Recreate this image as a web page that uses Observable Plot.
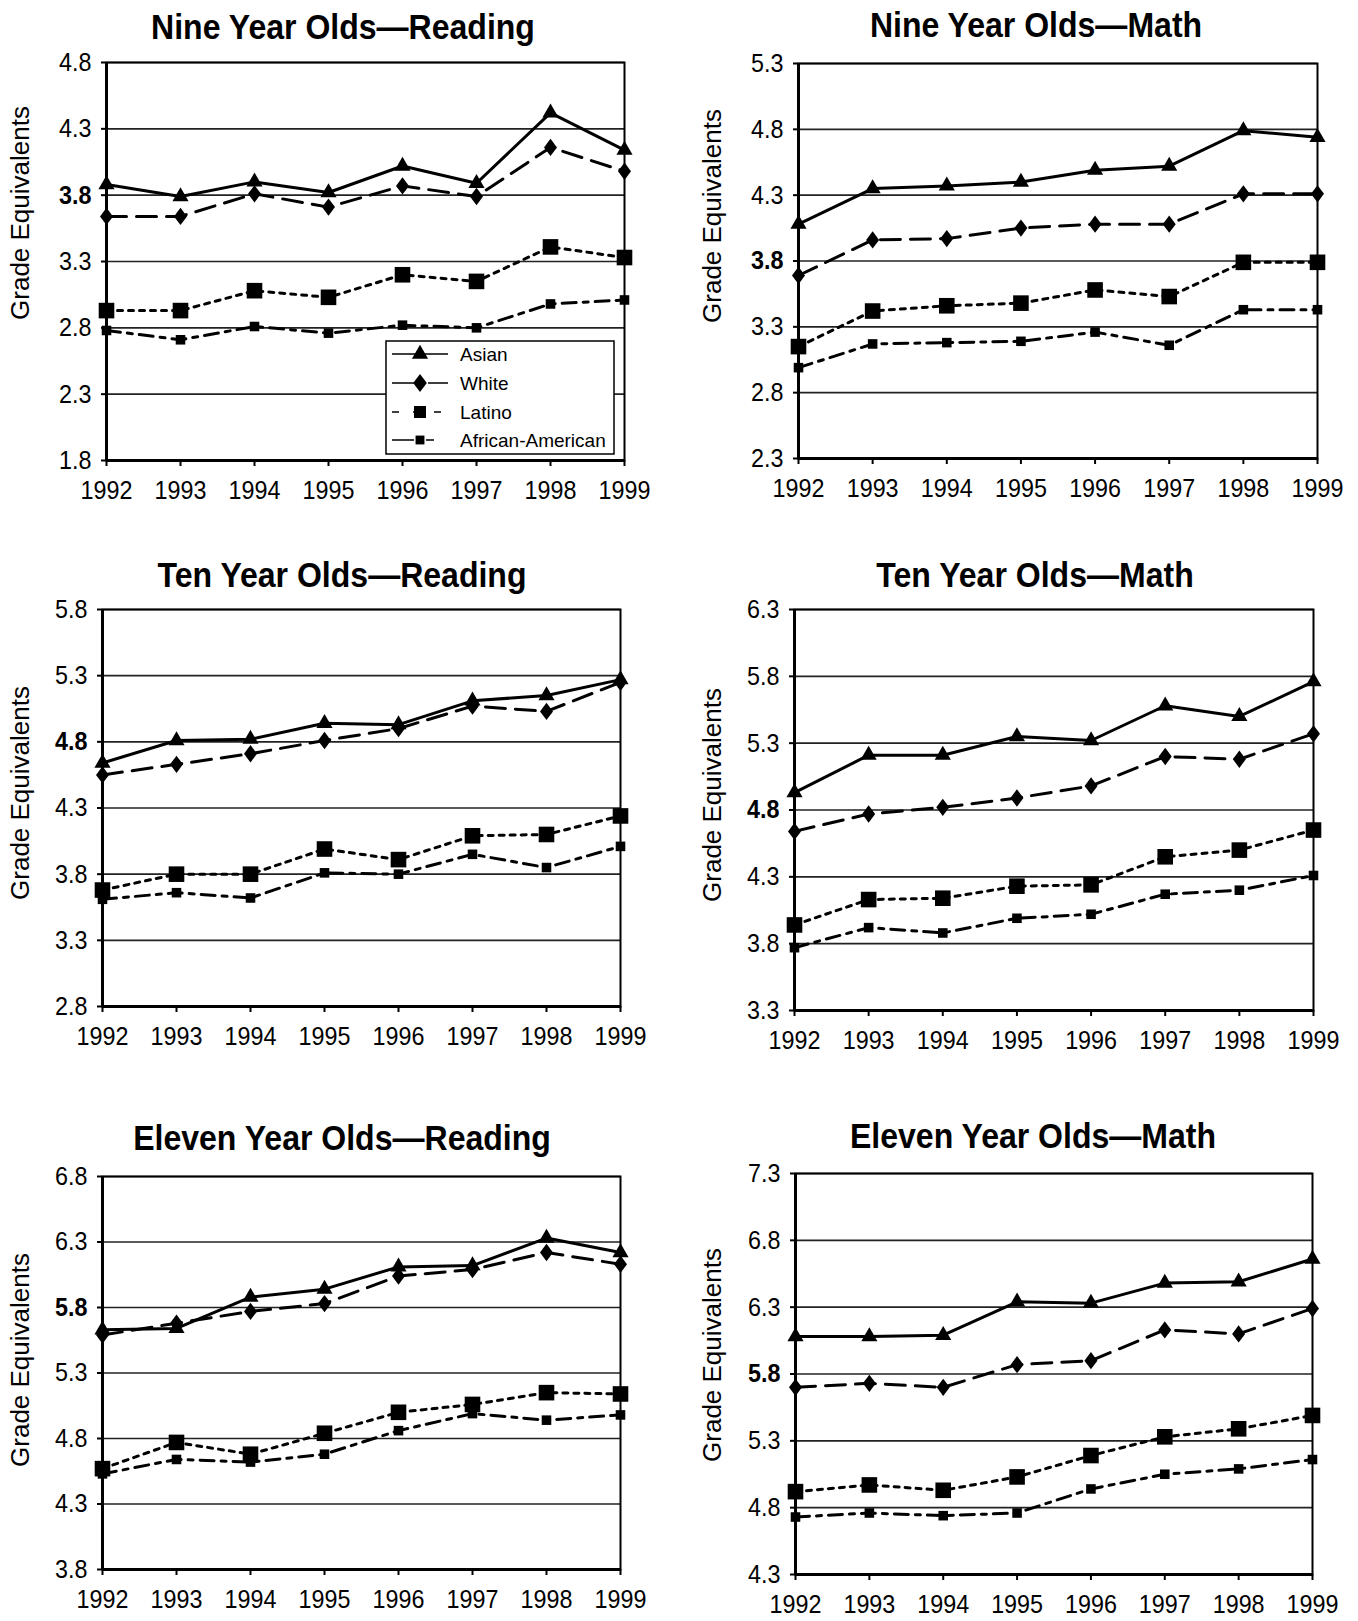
<!DOCTYPE html>
<html><head><meta charset="utf-8">
<script src="https://cdn.jsdelivr.net/npm/d3@7"></script>
<script src="https://cdn.jsdelivr.net/npm/@observablehq/plot@0.6"></script>
<style>
html,body{margin:0;padding:0;background:#fff;}
#page{position:relative;width:1358px;height:1621px;overflow:hidden;background:#fff;font-family:"Liberation Sans",Arial,Helvetica,sans-serif;}
#page svg{position:absolute;overflow:visible;}
</style></head><body><div id="page"></div>
<script>
// ---------- data ----------
const years = [1992, 1993, 1994, 1995, 1996, 1997, 1998, 1999];
const groups = ["Asian", "White", "Latino", "African-American"];
const panelTitles = ["Nine Year Olds\u2014Reading", "Nine Year Olds\u2014Math", "Ten Year Olds\u2014Reading", "Ten Year Olds\u2014Math", "Eleven Year Olds\u2014Reading", "Eleven Year Olds\u2014Math"];
const yAxisLabel = "Grade Equivalents";
const yMins = [1.8, 2.3, 2.8, 3.3, 3.8, 4.3];
const gradeLevelTick = [3.8, 3.8, 4.8, 4.8, 5.8, 5.8];

const nineReadingAsian = [3.88, 3.79, 3.90, 3.82, 4.02, 3.89, 4.42, 4.14];
const nineReadingWhite = [3.64, 3.64, 3.81, 3.71, 3.87, 3.79, 4.16, 3.98];
const nineReadingLatino = [2.93, 2.93, 3.08, 3.03, 3.20, 3.15, 3.41, 3.33];
const nineReadingAfricanAmerican = [2.78, 2.71, 2.81, 2.76, 2.82, 2.80, 2.98, 3.01];

const nineMathAsian = [4.08, 4.35, 4.37, 4.40, 4.49, 4.52, 4.79, 4.74];
const nineMathWhite = [3.69, 3.96, 3.97, 4.05, 4.08, 4.08, 4.31, 4.31];
const nineMathLatino = [3.15, 3.42, 3.46, 3.48, 3.58, 3.53, 3.79, 3.79];
const nineMathAfricanAmerican = [2.99, 3.17, 3.18, 3.19, 3.26, 3.16, 3.43, 3.43];

const tenReadingAsian = [4.64, 4.81, 4.82, 4.94, 4.93, 5.11, 5.15, 5.27];
const tenReadingWhite = [4.55, 4.63, 4.71, 4.81, 4.90, 5.07, 5.03, 5.25];
const tenReadingLatino = [3.68, 3.80, 3.80, 3.99, 3.91, 4.09, 4.10, 4.24];
const tenReadingAfricanAmerican = [3.61, 3.66, 3.62, 3.81, 3.80, 3.95, 3.85, 4.01];

const tenMathAsian = [4.93, 5.21, 5.21, 5.35, 5.32, 5.58, 5.50, 5.76];
const tenMathWhite = [4.64, 4.77, 4.82, 4.89, 4.98, 5.20, 5.18, 5.37];
const tenMathLatino = [3.94, 4.13, 4.14, 4.23, 4.24, 4.45, 4.50, 4.65];
const tenMathAfricanAmerican = [3.77, 3.92, 3.88, 3.99, 4.02, 4.17, 4.20, 4.31];

const elevenReadingAsian = [5.63, 5.64, 5.88, 5.94, 6.11, 6.12, 6.33, 6.22];
const elevenReadingWhite = [5.59, 5.68, 5.77, 5.83, 6.04, 6.09, 6.22, 6.13];
const elevenReadingLatino = [4.57, 4.77, 4.68, 4.84, 5.00, 5.06, 5.15, 5.14];
const elevenReadingAfricanAmerican = [4.53, 4.64, 4.62, 4.68, 4.86, 4.99, 4.94, 4.98];

const elevenMathAsian = [6.08, 6.08, 6.09, 6.34, 6.33, 6.48, 6.49, 6.66];
const elevenMathWhite = [5.70, 5.73, 5.70, 5.87, 5.90, 6.13, 6.10, 6.29];
const elevenMathLatino = [4.92, 4.97, 4.93, 5.03, 5.19, 5.33, 5.39, 5.49];
const elevenMathAfricanAmerican = [4.73, 4.76, 4.74, 4.76, 4.94, 5.05, 5.09, 5.16];

const panelSeries = [
  [nineReadingAsian, nineReadingWhite, nineReadingLatino, nineReadingAfricanAmerican],
  [nineMathAsian, nineMathWhite, nineMathLatino, nineMathAfricanAmerican],
  [tenReadingAsian, tenReadingWhite, tenReadingLatino, tenReadingAfricanAmerican],
  [tenMathAsian, tenMathWhite, tenMathLatino, tenMathAfricanAmerican],
  [elevenReadingAsian, elevenReadingWhite, elevenReadingLatino, elevenReadingAfricanAmerican],
  [elevenMathAsian, elevenMathWhite, elevenMathLatino, elevenMathAfricanAmerican]
];

// ---------- layout & style ----------
const plotBoxes = [
  {left: 106, top: 62, width: 518, height: 398},
  {left: 798, top: 63, width: 519, height: 395},
  {left: 102, top: 609, width: 518, height: 397},
  {left: 794, top: 609, width: 519, height: 401},
  {left: 102, top: 1176, width: 518, height: 393},
  {left: 795, top: 1173, width: 517, height: 401}
];
const titlePos = [{x: 343, y: 39}, {x: 1036, y: 37}, {x: 342, y: 587}, {x: 1035, y: 587}, {x: 342, y: 1150}, {x: 1033, y: 1148}];
const ylabelPos = [{x: 29, y: 213}, {x: 721, y: 216}, {x: 29, y: 793}, {x: 721, y: 795}, {x: 29, y: 1360}, {x: 721, y: 1355}];

// a rhombus a little wider than d3's diamond
const wideDiamond = {
  draw(context, size) {
    const h = Math.sqrt(2 * size / 0.75) / 2;
    const w = h * 0.75;
    context.moveTo(0, -h);
    context.lineTo(w, 0);
    context.lineTo(0, h);
    context.lineTo(-w, 0);
    context.closePath();
  }
};
const seriesStyle = {
  "Asian": {dash: null, symbol: d3.symbolTriangle, r: 6},
  "White": {dash: "20,10", symbol: wideDiamond, r: 6},
  "Latino": {dash: "5,6", symbol: d3.symbolSquare, r: 8.8},
  "African-American": {dash: "14,7,5,7", symbol: d3.symbolSquare, r: 5.4}
};
const legendMarkerR = {"Asian": 6, "White": 6.3, "Latino": 6.8, "African-American": 5};
const M = {left: 80, right: 20, top: 10, bottom: 46};
const FONT = "'Liberation Sans', Arial, Helvetica, sans-serif";
const SQUEEZE = 0.88;

const page = document.getElementById("page");

function squeezeText(root, k) {
  root.querySelectorAll("text").forEach(t => {
    const L = t.getComputedTextLength();
    if (L > 0) {
      t.setAttribute("textLength", (L * k).toFixed(2));
      t.setAttribute("lengthAdjust", "spacingAndGlyphs");
    }
  });
}

panelSeries.forEach((series, pi) => {
  const box = plotBoxes[pi];
  const ymin = yMins[pi];
  const yTicks = d3.range(7).map(i => +(ymin + 0.5 * i).toFixed(1));
  const rows = groups.flatMap((g, gi) => years.map((yr, i) => ({group: g, year: yr, value: series[gi][i]})));
  const drawOrder = groups.slice().reverse();
  const lineMarks = drawOrder.map(g => Plot.line(rows.filter(d => d.group === g), {
    x: "year", y: "value", stroke: "#000", strokeWidth: 3,
    strokeDasharray: seriesStyle[g].dash || undefined, strokeLinejoin: "round"
  }));
  const dotMarks = drawOrder.map(g => Plot.dot(rows.filter(d => d.group === g), {
    x: "year", y: "value", symbol: seriesStyle[g].symbol, r: seriesStyle[g].r, fill: "#000", stroke: "none"
  }));
  const chart = Plot.plot({
    width: box.width + M.left + M.right,
    height: box.height + M.top + M.bottom,
    marginLeft: M.left, marginRight: M.right, marginTop: M.top, marginBottom: M.bottom,
    style: {fontFamily: FONT, fontSize: "26.5px", color: "#000", background: "transparent", overflow: "visible"},
    x: {domain: [1992, 1999], ticks: years, tickFormat: d => String(d), label: null, tickSize: 6, tickPadding: 14},
    y: {domain: [ymin, ymin + 3], ticks: yTicks, tickFormat: d => d.toFixed(1), label: null, tickSize: 5, tickPadding: 10},
    marks: [
      Plot.ruleY(yTicks, {stroke: "#222", strokeWidth: 1.6}),
      Plot.frame({stroke: "#000", strokeWidth: 2}),
      Plot.ruleX([1992], {stroke: "#000", strokeWidth: 3}),
      Plot.ruleY([ymin], {stroke: "#000", strokeWidth: 3}),
      ...lineMarks,
      ...dotMarks
    ]
  });
  chart.style.left = (box.left - M.left) + "px";
  chart.style.top = (box.top - M.top) + "px";
  page.appendChild(chart);
  chart.querySelectorAll("text").forEach(t => {
    if (t.textContent.trim() === gradeLevelTick[pi].toFixed(1)) t.style.fontWeight = "bold";
  });
  chart.querySelectorAll("path, line").forEach(p => {
    const g = p.closest("g[aria-label]");
    if (g && /tick$/.test(g.getAttribute("aria-label"))) p.setAttribute("stroke-width", 2);
  });
  squeezeText(chart, SQUEEZE);
});

// ---------- overlay: titles, axis labels, legend ----------
const overlay = d3.select(page).append("svg")
  .attr("width", 1358).attr("height", 1621)
  .style("left", "0px").style("top", "0px")
  .style("font-family", FONT);

panelTitles.forEach((title, i) => {
  overlay.append("text")
    .attr("transform", `translate(${titlePos[i].x},${titlePos[i].y}) scale(0.89,1)`)
    .attr("text-anchor", "middle")
    .attr("font-size", 36).attr("font-weight", "bold").attr("fill", "#000")
    .text(title);
  overlay.append("text")
    .attr("transform", `translate(${ylabelPos[i].x},${ylabelPos[i].y}) rotate(-90)`)
    .attr("text-anchor", "middle")
    .attr("font-size", 26).attr("fill", "#000")
    .text(yAxisLabel);
});

// legend (first panel)
const legendBox = {x: 386, y: 341, w: 228, h: 113};
const legendRowY = [354, 383, 412, 440];
const legendDash = {"Asian": null, "White": "26,10,20,0", "Latino": "7,14", "African-American": "22,12,8,14"};
const legend = overlay.append("g");
legend.append("rect")
  .attr("x", legendBox.x).attr("y", legendBox.y).attr("width", legendBox.w).attr("height", legendBox.h)
  .attr("fill", "#fff").attr("stroke", "#000").attr("stroke-width", 1.5);
groups.forEach((g, i) => {
  const s = seriesStyle[g];
  const y = legendRowY[i];
  legend.append("line")
    .attr("x1", legendBox.x + 6).attr("x2", legendBox.x + 62).attr("y1", y).attr("y2", y)
    .attr("stroke", "#000").attr("stroke-width", 1.5)
    .attr("stroke-dasharray", legendDash[g]);
  const r = legendMarkerR[g];
  legend.append("path")
    .attr("transform", `translate(${legendBox.x + 34},${y})`)
    .attr("d", d3.symbol(s.symbol, r * r * Math.PI)())
    .attr("fill", "#000");
  legend.append("text")
    .attr("x", legendBox.x + 74).attr("y", y).attr("dy", "0.35em")
    .attr("font-size", 19).attr("fill", "#000")
    .text(g);
});
</script>
</body></html>
